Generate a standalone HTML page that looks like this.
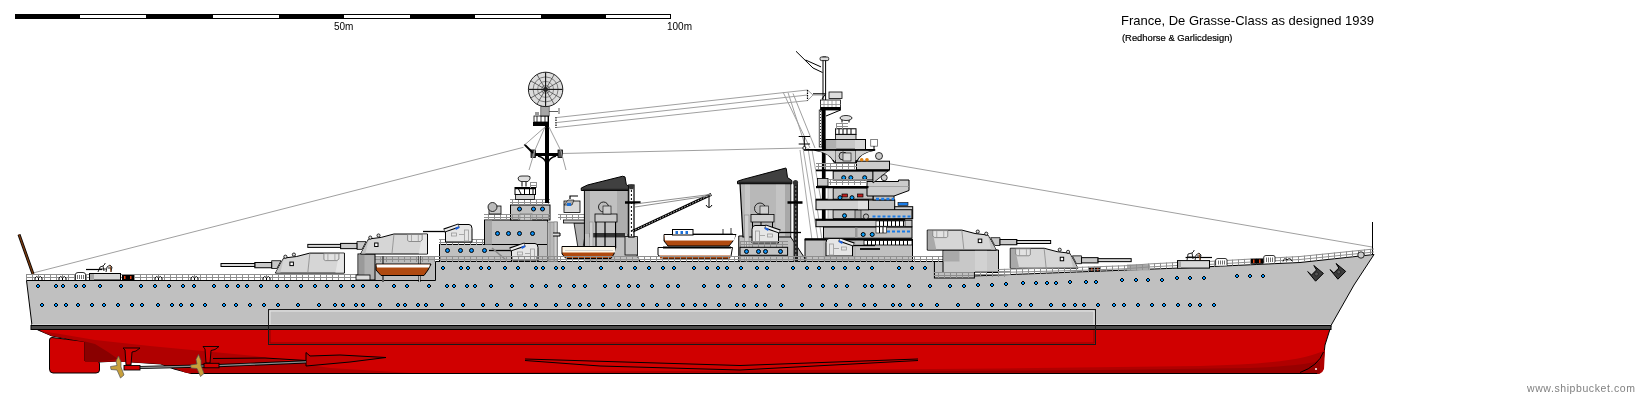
<!DOCTYPE html>
<html><head><meta charset="utf-8">
<style>
html,body{margin:0;padding:0;background:#fff;width:1643px;height:400px;overflow:hidden}
svg{display:block}
text{font-family:"Liberation Sans",sans-serif}
.txt{filter:grayscale(1)}
</style></head><body>
<svg width="1643" height="400" viewBox="0 0 1643 400">
<defs>
<pattern id="rail" x="0" y="0" width="6" height="6" patternUnits="userSpaceOnUse">
<rect x="0" y="0" width="6" height="1" fill="#9a9a9a"/><rect x="0" y="3" width="6" height="1" fill="#9a9a9a"/><rect x="0" y="0" width="1" height="6" fill="#9a9a9a"/>
</pattern>
<g id="turret">
<path d="M0,0 V-20 H34.6 L47.75,-16.6 L60.75,-15 L69,0 Z" fill="#d6d6d6" stroke="#000" stroke-width="1"/>
<path d="M0.5,-0.5 V-19.5 H5 L9,-0.5 Z" fill="currentColor"/>
<path d="M60.5,-15 L68.5,-0.5 H64 Z" fill="#c2c2c2"/>
<path d="M5.5,-19.5 H20.5 V-13.5 L19,-12.5 H7.5 L5.5,-14 Z" fill="#e2e2e2" stroke="#777" stroke-width="0.8"/><path d="M9.5,-19 V-13 M16.5,-19 V-13" stroke="#999" stroke-width="0.8"/>
<path d="M34.6,-19.5 L36.6,-0.5" stroke="#888" stroke-width="0.8" fill="none"/>
<circle cx="50.5" cy="-18.5" r="1.6" fill="#ddd" stroke="#000" stroke-width="0.8"/>
<circle cx="59" cy="-16.4" r="1.6" fill="#ddd" stroke="#000" stroke-width="0.8"/>
<rect x="51" y="-11" width="3.5" height="3.5" fill="#fff" stroke="#000" stroke-width="1"/>
<path d="M63.4,-12.4 H72.75 V-4.6 H67.5 Z" fill="#c8c8c8" stroke="#000" stroke-width="0.8"/>
<rect x="72.75" y="-10.6" width="16.85" height="5.25" fill="#c8c8c8" stroke="#000" stroke-width="1"/>
<rect x="89.6" y="-9.6" width="33.8" height="3" fill="#d8d8d8" stroke="#000" stroke-width="1"/>
</g>
<g id="aa">
<path d="M-22,-10.5 H2" stroke="#000" stroke-width="1.3"/>
<path d="M0.5,0 V-12.5 L14,-17.5 H24 Q27,-17.5 27,-13.5 V0 Z" fill="#e6e6e6" stroke="#000" stroke-width="1"/>
<path d="M-1,-11.5 L14,-16.5" stroke="#000" stroke-width="4"/>
<path d="M-0.5,-11.5 L13.5,-16.5" stroke="#eee" stroke-width="2"/>
<path d="M10.5,-13 L14,-14.8" stroke="#1a5fe0" stroke-width="2"/>
<rect x="19.5" y="-12" width="4" height="11" fill="none" stroke="#999" stroke-width="0.8"/>
<rect x="6.5" y="-9" width="5" height="3" fill="none" stroke="#999" stroke-width="0.8"/>
<path d="M14,-7.5 H19" stroke="#aaa" stroke-width="1"/>
</g>
</defs>
<rect width="1643" height="400" fill="#fff"/>
<!-- scale bar -->
<g shape-rendering="crispEdges">
<rect x="15" y="14" width="656" height="5" fill="#000"/>
<g fill="#fff">
<rect x="80" y="15" width="66" height="3"/>
<rect x="213" y="15" width="66" height="3"/>
<rect x="344" y="15" width="66" height="3"/>
<rect x="475" y="15" width="66" height="3"/>
<rect x="606" y="15" width="64" height="3"/>
</g>
</g>

<g class="txt">
<text x="334" y="30" font-size="10" fill="#000">50m</text>
<text x="667" y="30" font-size="10" fill="#000">100m</text>
<text x="1121" y="25" font-size="13" fill="#000">France, De Grasse-Class as designed 1939</text>
<text x="1122" y="41" font-size="9.4" fill="#000" stroke="#000" stroke-width="0.2">(Redhorse &amp; Garlicdesign)</text>
<text x="1527" y="392" font-size="10.5" letter-spacing="0.58" fill="#808080">www.shipbucket.com</text>
</g>
<!-- rigging wires -->
<g stroke="#a0a0a0" stroke-width="1" fill="none">
<path d="M33,273 L523.5,147.3"/>
<path d="M876,161.5 L1372,247"/>
<path d="M557,117.5 L807.5,90"/>
<path d="M557,122.5 L807.5,95"/>
<path d="M557,127.5 L807.5,100.6"/>
<path d="M562,153.5 L803,148"/>
<path d="M807.5,90 L813,95 L807.5,100.6 M813,95 H822 M783,92 L810,148 M793,93.5 L815,148 M788,92.5 L806,148"/>
</g>
<!-- stern flagstaff -->
<path d="M19,234.5 L33,274" stroke="#000" stroke-width="3"/>
<path d="M19,234.5 L33,274" stroke="#7a3a10" stroke-width="1.4"/>
<!-- jackstaff -->
<path d="M1372.5,222 V255" stroke="#000" stroke-width="1"/>

<!-- red hull -->
<path d="M32,326 L38,330 L52,336 L85,342 L85,362 L99,362 L117,361 L161,364 L174,369 L191,373.5 L1317,373.5 Q1322,373 1322.5,367 L1325,345 L1331,326 Z" fill="#D00000" stroke="#000" stroke-width="1"/>
<!-- rudder -->
<path d="M52,337.5 L85,341.5 V361 H97 Q99.5,361 99.5,364 V370 Q99.5,373 96,373 H53 Q49.5,373 49.5,369 V340 Q49.5,337.5 52,337.5 Z" fill="#D00000" stroke="#000" stroke-width="1"/>
<!-- red hull shading -->
<path d="M40,331 L52,336 L85,342 V362 H99 L117,361.5 L160,364 L172,367 L185,372.5 L191,373.5 H420 L330,368 L255,356 L150,346 L95,340 L60,334 Z" fill="#b00000"/>
<path d="M85,341.5 L95,344 L108,352 L118,359 L99,362 H85 Z" fill="#8a0000"/>
<path d="M400,373.5 H1320 Q1323,372 1324,369 L1325,350 Q1300,364 1200,366 L1000,368.5 L800,370 L600,371.5 Z" fill="#b00000"/>
<path d="M700,373 L900,371.5 L1100,370 L1250,368 Q1300,366 1320,361 L1320,373.5 H700 Z" fill="#980000"/>
<path d="M191,373.5 H1317" stroke="#000" stroke-width="1"/>
<path d="M1323.5,352 Q1318,366 1300,372.5" stroke="#000" stroke-width="1" fill="none"/>
<circle cx="1316" cy="369" r="1" fill="#fff"/>
<!-- bilge keel -->
<path d="M525,359 L740,365.5 L918,359 M525,360.5 L600,366 L740,370 L918,360.5" stroke="#000" stroke-width="1" fill="none"/>
<!-- belt bottom darker line -->
<!-- shafts & props -->
<g>
<path d="M213,358.5 L265,358 L306,360.5" stroke="#000" stroke-width="1" fill="none"/>
<path d="M306,352.5 L310,356 L340,355 L386,357.5 L350,362 L306,366 Z" fill="#c00000" stroke="#000" stroke-width="1"/>
<path d="M140,367.5 L218,365.6 L306,361.9" stroke="#000" stroke-width="3.2" fill="none"/>
<path d="M140,367.5 L218,365.6 L306,361.9" stroke="#8c8c8c" stroke-width="1.4" fill="none"/>
<path d="M123,348 H140 L136,351 L132,352 L131,365 H126 L125,350 Z" fill="#d00000" stroke="#000" stroke-width="0.9"/>
<path d="M203,346.5 H219 L215,349.5 L211,350.5 L210,363 H206 L205,349 Z" fill="#d00000" stroke="#000" stroke-width="0.9"/>
<rect x="124" y="365.5" width="16" height="4.5" fill="#d00000" stroke="#000" stroke-width="0.9"/>
<rect x="204" y="363.3" width="15" height="4.5" fill="#d00000" stroke="#000" stroke-width="0.9"/>
<g fill="#c8a03c" stroke="#555" stroke-width="0.7">
<path d="M118.5,356 L121,362 L121,367 L124,375 L120.5,378 L117,370 L111,369.5 L110.5,366.5 L117,365.5 L116,361 Z"/>
<path d="M198.5,354.5 L201,360.5 L201,365.5 L204,373.5 L200.5,376.5 L197,368.5 L191,368 L190.5,365 L197,364 L196,359.5 Z"/>
</g>
</g>
<!-- grey hull -->
<path d="M26.5,280.5 L435.5,280.5 L435.5,261.5 L934.5,261.5 L934.5,277.5 L1180,268 L1300,262.5 L1374,254.5 L1354,285 L1331,325.5 L32,325.5 Z" fill="#C0C0C0" stroke="#000" stroke-width="1"/>
<path d="M32,324.5 H1331" stroke="#d4d4d4" stroke-width="1"/>
<!-- waterline band -->
<rect x="31" y="325.5" width="1300" height="4" fill="#4B4B4B" stroke="#000" stroke-width="1"/>
<!-- belt -->
<rect x="268.5" y="309.5" width="827" height="35" fill="none" stroke="#1a1a1a" stroke-width="1"/>
<path d="M270,325 V311 H1094 V325" stroke="#e6e6e6" stroke-width="1" fill="none"/>
<path d="M270,330 V343 H1094 V330" stroke="#900000" stroke-width="1" fill="none"/>
<g shape-rendering="crispEdges"><path fill="#000" d="M36,285h4v2h-4zM37,284h2v4h-2zM54,285h4v2h-4zM55,284h2v4h-2zM61,285h4v2h-4zM62,284h2v4h-2zM74,285h4v2h-4zM75,284h2v4h-2zM82,285h4v2h-4zM83,284h2v4h-2zM98,285h4v2h-4zM99,284h2v4h-2zM119,285h4v2h-4zM120,284h2v4h-2zM139,285h4v2h-4zM140,284h2v4h-2zM153,285h4v2h-4zM154,284h2v4h-2zM167,285h4v2h-4zM168,284h2v4h-2zM181,285h4v2h-4zM182,284h2v4h-2zM192,285h4v2h-4zM193,284h2v4h-2zM212,285h4v2h-4zM213,284h2v4h-2zM225,285h4v2h-4zM226,284h2v4h-2zM236,285h4v2h-4zM237,284h2v4h-2zM245,285h4v2h-4zM246,284h2v4h-2zM259,285h4v2h-4zM260,284h2v4h-2zM275,285h4v2h-4zM276,284h2v4h-2zM285,285h4v2h-4zM286,284h2v4h-2zM299,285h4v2h-4zM300,284h2v4h-2zM313,285h4v2h-4zM314,284h2v4h-2zM325,285h4v2h-4zM326,284h2v4h-2zM339,285h4v2h-4zM340,284h2v4h-2zM351,285h4v2h-4zM352,284h2v4h-2zM361,285h4v2h-4zM362,284h2v4h-2zM375,285h4v2h-4zM376,284h2v4h-2zM392,285h4v2h-4zM393,284h2v4h-2zM405,285h4v2h-4zM406,284h2v4h-2zM427,285h4v2h-4zM428,284h2v4h-2zM445,285h4v2h-4zM446,284h2v4h-2zM452,285h4v2h-4zM453,284h2v4h-2zM465,285h4v2h-4zM466,284h2v4h-2zM473,285h4v2h-4zM474,284h2v4h-2zM489,285h4v2h-4zM490,284h2v4h-2zM510,285h4v2h-4zM511,284h2v4h-2zM530,285h4v2h-4zM531,284h2v4h-2zM544,285h4v2h-4zM545,284h2v4h-2zM558,285h4v2h-4zM559,284h2v4h-2zM572,285h4v2h-4zM573,284h2v4h-2zM583,285h4v2h-4zM584,284h2v4h-2zM603,285h4v2h-4zM604,284h2v4h-2zM616,285h4v2h-4zM617,284h2v4h-2zM627,285h4v2h-4zM628,284h2v4h-2zM636,285h4v2h-4zM637,284h2v4h-2zM650,285h4v2h-4zM651,284h2v4h-2zM666,285h4v2h-4zM667,284h2v4h-2zM676,285h4v2h-4zM677,284h2v4h-2zM702,285h4v2h-4zM703,284h2v4h-2zM716,285h4v2h-4zM717,284h2v4h-2zM728,285h4v2h-4zM729,284h2v4h-2zM742,285h4v2h-4zM743,284h2v4h-2zM754,285h4v2h-4zM755,284h2v4h-2zM767,285h4v2h-4zM768,284h2v4h-2zM781,285h4v2h-4zM782,284h2v4h-2zM808,285h4v2h-4zM809,284h2v4h-2zM821,285h4v2h-4zM822,284h2v4h-2zM834,285h4v2h-4zM835,284h2v4h-2zM845,285h4v2h-4zM846,284h2v4h-2zM863,285h4v2h-4zM864,284h2v4h-2zM870,285h4v2h-4zM871,284h2v4h-2zM883,285h4v2h-4zM884,284h2v4h-2zM891,285h4v2h-4zM892,284h2v4h-2zM907,285h4v2h-4zM908,284h2v4h-2zM928,285h4v2h-4zM929,284h2v4h-2zM948,285h4v2h-4zM949,284h2v4h-2zM962,285h4v2h-4zM963,284h2v4h-2zM976,284h4v2h-4zM977,283h2v4h-2zM990,284h4v2h-4zM991,283h2v4h-2zM1004,283h4v2h-4zM1005,282h2v4h-2zM1021,282h4v2h-4zM1022,281h2v4h-2zM1034,282h4v2h-4zM1035,281h2v4h-2zM1045,282h4v2h-4zM1046,281h2v4h-2zM1054,282h4v2h-4zM1055,281h2v4h-2zM1068,281h4v2h-4zM1069,280h2v4h-2zM1084,281h4v2h-4zM1085,280h2v4h-2zM1094,281h4v2h-4zM1095,280h2v4h-2zM1120,279h4v2h-4zM1121,278h2v4h-2zM1134,279h4v2h-4zM1135,278h2v4h-2zM1146,279h4v2h-4zM1147,278h2v4h-2zM1160,279h4v2h-4zM1161,278h2v4h-2zM1175,277h4v2h-4zM1176,276h2v4h-2zM1188,277h4v2h-4zM1189,276h2v4h-2zM1202,277h4v2h-4zM1203,276h2v4h-2zM1235,275h4v2h-4zM1236,274h2v4h-2zM1248,275h4v2h-4zM1249,274h2v4h-2zM1261,275h4v2h-4zM1262,274h2v4h-2zM40,304h4v2h-4zM41,303h2v4h-2zM54,304h4v2h-4zM55,303h2v4h-2zM64,304h4v2h-4zM65,303h2v4h-2zM76,304h4v2h-4zM77,303h2v4h-2zM90,304h4v2h-4zM91,303h2v4h-2zM102,304h4v2h-4zM103,303h2v4h-2zM116,304h4v2h-4zM117,303h2v4h-2zM130,304h4v2h-4zM131,303h2v4h-2zM140,304h4v2h-4zM141,303h2v4h-2zM156,304h4v2h-4zM157,303h2v4h-2zM170,304h4v2h-4zM171,303h2v4h-2zM179,304h4v2h-4zM180,303h2v4h-2zM190,304h4v2h-4zM191,303h2v4h-2zM203,304h4v2h-4zM204,303h2v4h-2zM222,304h4v2h-4zM223,303h2v4h-2zM234,304h4v2h-4zM235,303h2v4h-2zM248,304h4v2h-4zM249,303h2v4h-2zM262,304h4v2h-4zM263,303h2v4h-2zM276,304h4v2h-4zM277,303h2v4h-2zM296,304h4v2h-4zM297,303h2v4h-2zM317,304h4v2h-4zM318,303h2v4h-2zM333,304h4v2h-4zM334,303h2v4h-2zM341,304h4v2h-4zM342,303h2v4h-2zM354,304h4v2h-4zM355,303h2v4h-2zM361,304h4v2h-4zM362,303h2v4h-2zM378,304h4v2h-4zM379,303h2v4h-2zM396,304h4v2h-4zM397,303h2v4h-2zM403,304h4v2h-4zM404,303h2v4h-2zM416,304h4v2h-4zM417,303h2v4h-2zM424,304h4v2h-4zM425,303h2v4h-2zM440,304h4v2h-4zM441,303h2v4h-2zM461,304h4v2h-4zM462,303h2v4h-2zM481,304h4v2h-4zM482,303h2v4h-2zM495,304h4v2h-4zM496,303h2v4h-2zM509,304h4v2h-4zM510,303h2v4h-2zM523,304h4v2h-4zM524,303h2v4h-2zM534,304h4v2h-4zM535,303h2v4h-2zM554,304h4v2h-4zM555,303h2v4h-2zM567,304h4v2h-4zM568,303h2v4h-2zM578,304h4v2h-4zM579,303h2v4h-2zM587,304h4v2h-4zM588,303h2v4h-2zM601,304h4v2h-4zM602,303h2v4h-2zM617,304h4v2h-4zM618,303h2v4h-2zM627,304h4v2h-4zM628,303h2v4h-2zM641,304h4v2h-4zM642,303h2v4h-2zM655,304h4v2h-4zM656,303h2v4h-2zM667,304h4v2h-4zM668,303h2v4h-2zM681,304h4v2h-4zM682,303h2v4h-2zM693,304h4v2h-4zM694,303h2v4h-2zM703,304h4v2h-4zM704,303h2v4h-2zM717,304h4v2h-4zM718,303h2v4h-2zM735,304h4v2h-4zM736,303h2v4h-2zM742,304h4v2h-4zM743,303h2v4h-2zM755,304h4v2h-4zM756,303h2v4h-2zM763,304h4v2h-4zM764,303h2v4h-2zM779,304h4v2h-4zM780,303h2v4h-2zM800,304h4v2h-4zM801,303h2v4h-2zM820,304h4v2h-4zM821,303h2v4h-2zM834,304h4v2h-4zM835,303h2v4h-2zM848,304h4v2h-4zM849,303h2v4h-2zM862,304h4v2h-4zM863,303h2v4h-2zM873,304h4v2h-4zM874,303h2v4h-2zM891,304h4v2h-4zM892,303h2v4h-2zM898,304h4v2h-4zM899,303h2v4h-2zM911,304h4v2h-4zM912,303h2v4h-2zM919,304h4v2h-4zM920,303h2v4h-2zM935,304h4v2h-4zM936,303h2v4h-2zM956,304h4v2h-4zM957,303h2v4h-2zM976,304h4v2h-4zM977,303h2v4h-2zM990,304h4v2h-4zM991,303h2v4h-2zM1004,304h4v2h-4zM1005,303h2v4h-2zM1018,304h4v2h-4zM1019,303h2v4h-2zM1029,304h4v2h-4zM1030,303h2v4h-2zM1049,304h4v2h-4zM1050,303h2v4h-2zM1062,304h4v2h-4zM1063,303h2v4h-2zM1073,304h4v2h-4zM1074,303h2v4h-2zM1082,304h4v2h-4zM1083,303h2v4h-2zM1096,304h4v2h-4zM1097,303h2v4h-2zM1112,304h4v2h-4zM1113,303h2v4h-2zM1122,304h4v2h-4zM1123,303h2v4h-2zM1136,304h4v2h-4zM1137,303h2v4h-2zM1150,304h4v2h-4zM1151,303h2v4h-2zM1162,304h4v2h-4zM1163,303h2v4h-2zM1176,304h4v2h-4zM1177,303h2v4h-2zM1188,304h4v2h-4zM1189,303h2v4h-2zM1198,304h4v2h-4zM1199,303h2v4h-2zM1212,304h4v2h-4zM1213,303h2v4h-2zM441,267h4v2h-4zM442,266h2v4h-2zM459,267h4v2h-4zM460,266h2v4h-2zM466,267h4v2h-4zM467,266h2v4h-2zM479,267h4v2h-4zM480,266h2v4h-2zM487,267h4v2h-4zM488,266h2v4h-2zM503,267h4v2h-4zM504,266h2v4h-2zM516,267h4v2h-4zM517,266h2v4h-2zM534,267h4v2h-4zM535,266h2v4h-2zM541,267h4v2h-4zM542,266h2v4h-2zM554,267h4v2h-4zM555,266h2v4h-2zM561,267h4v2h-4zM562,266h2v4h-2zM578,267h4v2h-4zM579,266h2v4h-2zM599,267h4v2h-4zM600,266h2v4h-2zM619,267h4v2h-4zM620,266h2v4h-2zM633,267h4v2h-4zM634,266h2v4h-2zM647,267h4v2h-4zM648,266h2v4h-2zM661,267h4v2h-4zM662,266h2v4h-2zM672,267h4v2h-4zM673,266h2v4h-2zM692,267h4v2h-4zM693,266h2v4h-2zM705,267h4v2h-4zM706,266h2v4h-2zM716,267h4v2h-4zM717,266h2v4h-2zM725,267h4v2h-4zM726,266h2v4h-2zM739,267h4v2h-4zM740,266h2v4h-2zM755,267h4v2h-4zM756,266h2v4h-2zM765,267h4v2h-4zM766,266h2v4h-2zM791,267h4v2h-4zM792,266h2v4h-2zM805,267h4v2h-4zM806,266h2v4h-2zM817,267h4v2h-4zM818,266h2v4h-2zM831,267h4v2h-4zM832,266h2v4h-2zM843,267h4v2h-4zM844,266h2v4h-2zM856,267h4v2h-4zM857,266h2v4h-2zM870,267h4v2h-4zM871,266h2v4h-2zM897,267h4v2h-4zM898,266h2v4h-2zM910,267h4v2h-4zM911,266h2v4h-2zM923,267h4v2h-4zM924,266h2v4h-2z"/><path fill="#0094FF" d="M37,285h2v2h-2zM55,285h2v2h-2zM62,285h2v2h-2zM75,285h2v2h-2zM83,285h2v2h-2zM99,285h2v2h-2zM120,285h2v2h-2zM140,285h2v2h-2zM154,285h2v2h-2zM168,285h2v2h-2zM182,285h2v2h-2zM193,285h2v2h-2zM213,285h2v2h-2zM226,285h2v2h-2zM237,285h2v2h-2zM246,285h2v2h-2zM260,285h2v2h-2zM276,285h2v2h-2zM286,285h2v2h-2zM300,285h2v2h-2zM314,285h2v2h-2zM326,285h2v2h-2zM340,285h2v2h-2zM352,285h2v2h-2zM362,285h2v2h-2zM376,285h2v2h-2zM393,285h2v2h-2zM406,285h2v2h-2zM428,285h2v2h-2zM446,285h2v2h-2zM453,285h2v2h-2zM466,285h2v2h-2zM474,285h2v2h-2zM490,285h2v2h-2zM511,285h2v2h-2zM531,285h2v2h-2zM545,285h2v2h-2zM559,285h2v2h-2zM573,285h2v2h-2zM584,285h2v2h-2zM604,285h2v2h-2zM617,285h2v2h-2zM628,285h2v2h-2zM637,285h2v2h-2zM651,285h2v2h-2zM667,285h2v2h-2zM677,285h2v2h-2zM703,285h2v2h-2zM717,285h2v2h-2zM729,285h2v2h-2zM743,285h2v2h-2zM755,285h2v2h-2zM768,285h2v2h-2zM782,285h2v2h-2zM809,285h2v2h-2zM822,285h2v2h-2zM835,285h2v2h-2zM846,285h2v2h-2zM864,285h2v2h-2zM871,285h2v2h-2zM884,285h2v2h-2zM892,285h2v2h-2zM908,285h2v2h-2zM929,285h2v2h-2zM949,285h2v2h-2zM963,285h2v2h-2zM977,284h2v2h-2zM991,284h2v2h-2zM1005,283h2v2h-2zM1022,282h2v2h-2zM1035,282h2v2h-2zM1046,282h2v2h-2zM1055,282h2v2h-2zM1069,281h2v2h-2zM1085,281h2v2h-2zM1095,281h2v2h-2zM1121,279h2v2h-2zM1135,279h2v2h-2zM1147,279h2v2h-2zM1161,279h2v2h-2zM1176,277h2v2h-2zM1189,277h2v2h-2zM1203,277h2v2h-2zM1236,275h2v2h-2zM1249,275h2v2h-2zM1262,275h2v2h-2zM41,304h2v2h-2zM55,304h2v2h-2zM65,304h2v2h-2zM77,304h2v2h-2zM91,304h2v2h-2zM103,304h2v2h-2zM117,304h2v2h-2zM131,304h2v2h-2zM141,304h2v2h-2zM157,304h2v2h-2zM171,304h2v2h-2zM180,304h2v2h-2zM191,304h2v2h-2zM204,304h2v2h-2zM223,304h2v2h-2zM235,304h2v2h-2zM249,304h2v2h-2zM263,304h2v2h-2zM277,304h2v2h-2zM297,304h2v2h-2zM318,304h2v2h-2zM334,304h2v2h-2zM342,304h2v2h-2zM355,304h2v2h-2zM362,304h2v2h-2zM379,304h2v2h-2zM397,304h2v2h-2zM404,304h2v2h-2zM417,304h2v2h-2zM425,304h2v2h-2zM441,304h2v2h-2zM462,304h2v2h-2zM482,304h2v2h-2zM496,304h2v2h-2zM510,304h2v2h-2zM524,304h2v2h-2zM535,304h2v2h-2zM555,304h2v2h-2zM568,304h2v2h-2zM579,304h2v2h-2zM588,304h2v2h-2zM602,304h2v2h-2zM618,304h2v2h-2zM628,304h2v2h-2zM642,304h2v2h-2zM656,304h2v2h-2zM668,304h2v2h-2zM682,304h2v2h-2zM694,304h2v2h-2zM704,304h2v2h-2zM718,304h2v2h-2zM736,304h2v2h-2zM743,304h2v2h-2zM756,304h2v2h-2zM764,304h2v2h-2zM780,304h2v2h-2zM801,304h2v2h-2zM821,304h2v2h-2zM835,304h2v2h-2zM849,304h2v2h-2zM863,304h2v2h-2zM874,304h2v2h-2zM892,304h2v2h-2zM899,304h2v2h-2zM912,304h2v2h-2zM920,304h2v2h-2zM936,304h2v2h-2zM957,304h2v2h-2zM977,304h2v2h-2zM991,304h2v2h-2zM1005,304h2v2h-2zM1019,304h2v2h-2zM1030,304h2v2h-2zM1050,304h2v2h-2zM1063,304h2v2h-2zM1074,304h2v2h-2zM1083,304h2v2h-2zM1097,304h2v2h-2zM1113,304h2v2h-2zM1123,304h2v2h-2zM1137,304h2v2h-2zM1151,304h2v2h-2zM1163,304h2v2h-2zM1177,304h2v2h-2zM1189,304h2v2h-2zM1199,304h2v2h-2zM1213,304h2v2h-2zM442,267h2v2h-2zM460,267h2v2h-2zM467,267h2v2h-2zM480,267h2v2h-2zM488,267h2v2h-2zM504,267h2v2h-2zM517,267h2v2h-2zM535,267h2v2h-2zM542,267h2v2h-2zM555,267h2v2h-2zM562,267h2v2h-2zM579,267h2v2h-2zM600,267h2v2h-2zM620,267h2v2h-2zM634,267h2v2h-2zM648,267h2v2h-2zM662,267h2v2h-2zM673,267h2v2h-2zM693,267h2v2h-2zM706,267h2v2h-2zM717,267h2v2h-2zM726,267h2v2h-2zM740,267h2v2h-2zM756,267h2v2h-2zM766,267h2v2h-2zM792,267h2v2h-2zM806,267h2v2h-2zM818,267h2v2h-2zM832,267h2v2h-2zM844,267h2v2h-2zM857,267h2v2h-2zM871,267h2v2h-2zM898,267h2v2h-2zM911,267h2v2h-2zM924,267h2v2h-2z"/></g>

<!-- hull railings -->
<g shape-rendering="crispEdges"><path d="M26.0,274.5H435.0M26.0,277.5H435.0" stroke="#8f8f8f" stroke-width="1" fill="none"/><path d="M26.0,277.0H435.0" stroke="#8f8f8f" stroke-width="6.0" stroke-dasharray="1,5" stroke-dashoffset="0.0" fill="none"/></g>
<g shape-rendering="crispEdges"><path d="M934.0,272.5H944.0M934.0,275.5H944.0" stroke="#8f8f8f" stroke-width="1" fill="none"/><path d="M934.0,275.0H944.0" stroke="#8f8f8f" stroke-width="6.0" stroke-dasharray="1,5" stroke-dashoffset="2.0" fill="none"/></g>
<!-- quarterdeck AA gun -->
<rect x="89.5" y="273.5" width="31" height="6.5" fill="#d6d6d6" stroke="#000" stroke-width="1"/>
<rect x="90" y="274" width="4" height="6" fill="#a8a8a8"/>
<path d="M86,269.5 H102" stroke="#000" stroke-width="1.2"/>
<path d="M98,272 L100,267 L103,266 L104,271 M103,266 L105,264 V263 M106,272 L107,267 L110,265 L112,267 L111,272 M108,268 H112 M99,269 H106" stroke="#111" stroke-width="0.9" fill="none"/>
<path d="M110,265.5 L111,272" stroke="#8a4a20" stroke-width="1"/>
<path d="M75.5,280 V274.5 Q75.5,272.5 78,272.5 H83 Q85.5,272.5 85.5,274.5 V280" fill="#fff" stroke="#000" stroke-width="0.8"/>
<path d="M77.5,275 V279 M79.5,275 V279 M81.5,275 V279 M83.5,275 V279" stroke="#333" stroke-width="0.7"/>
<path d="M35,280 V278 Q36.75,275 38.5,278 V280 M38.5,278 Q40.25,275 42,278 V280" stroke="#000" stroke-width="1" fill="#fff"/><path d="M59,280 V278 Q60.75,275 62.5,278 V280 M62.5,278 Q64.25,275 66,278 V280" stroke="#000" stroke-width="1" fill="#fff"/><path d="M155,280 V278 Q156.75,275 158.5,278 V280 M158.5,278 Q160.25,275 162,278 V280" stroke="#000" stroke-width="1" fill="#fff"/><path d="M191,280 V278 Q192.75,275 194.5,278 V280 M194.5,278 Q196.25,275 198,278 V280" stroke="#000" stroke-width="1" fill="#fff"/><path d="M263,280 V278 Q264.75,275 266.5,278 V280 M266.5,278 Q268.25,275 270,278 V280" stroke="#000" stroke-width="1" fill="#fff"/>
<rect x="122" y="275" width="12" height="5" fill="#000"/><rect x="124" y="276" width="1.5" height="3" fill="#e04010"/><rect x="130" y="276" width="1.5" height="3" fill="#e04010"/>

<!-- turret X (aft lower) -->
<use href="#turret" style="color:#e6e6e6" transform="translate(344.4,273.1) scale(-1,1)"/>
<!-- turret Y -->
<rect x="375" y="256" width="60" height="24" fill="#bcbcbc"/>
<g shape-rendering="crispEdges"><path d="M375.0,256.0H435.0M375.0,259.0H435.0" stroke="#8f8f8f" stroke-width="1" fill="none"/><path d="M375.0,258.5H435.0" stroke="#8f8f8f" stroke-width="6.0" stroke-dasharray="1,5" stroke-dashoffset="1.0" fill="none"/></g>
<rect x="358" y="254" width="17" height="26" fill="#b0b0b0" stroke="#000" stroke-width="1"/>
<rect x="358.5" y="254.5" width="6" height="25" fill="#9a9a9a"/>
<rect x="356" y="275" width="14" height="5" fill="#ddd" stroke="#000" stroke-width="0.8"/>
<use href="#turret" style="color:#e6e6e6" transform="translate(427.5,254) scale(-0.97,1)"/>
<!-- boat aft -->
<path d="M383,256 V282 M419.5,256 V282" stroke="#000" stroke-width="2"/>
<path d="M383,256 V282 M419.5,256 V282" stroke="#eee" stroke-width="0.8"/>
<path d="M376,264 H431 L428,270 L424,275.5 H381 L376,270 Z" fill="#b04a10" stroke="#000" stroke-width="1"/>
<path d="M376.5,264.5 H430 L429,267.5 H377 Z" fill="#fff"/>

<!-- aft deckhouse lower -->
<rect x="439.5" y="244.5" width="108" height="17" fill="#c0c0c0" stroke="#000" stroke-width="1"/>
<g shape-rendering="crispEdges"><path d="M439.0,239.0H549.0M439.0,242.0H549.0" stroke="#8f8f8f" stroke-width="1" fill="none"/><path d="M439.0,241.5H549.0" stroke="#8f8f8f" stroke-width="6.0" stroke-dasharray="1,5" stroke-dashoffset="5.0" fill="none"/></g>
<!-- aft deckhouse upper -->
<rect x="484.5" y="220" width="63" height="24.5" fill="#c0c0c0" stroke="#000" stroke-width="1"/>
<rect x="485" y="220.5" width="7" height="24" fill="#a8a8a8"/>
<rect x="510.5" y="205" width="39.5" height="15" fill="#c0c0c0" stroke="#000" stroke-width="1"/>
<rect x="520" y="213.5" width="12" height="6.5" fill="#d0d0d0" stroke="#888" stroke-width="0.6"/>
<g shape-rendering="crispEdges"><path d="M484.0,214.5H550.0M484.0,217.5H550.0" stroke="#8f8f8f" stroke-width="1" fill="none"/><path d="M484.0,217.0H550.0" stroke="#8f8f8f" stroke-width="6.0" stroke-dasharray="1,5" stroke-dashoffset="2.0" fill="none"/></g>
<g shape-rendering="crispEdges"><path d="M510.0,199.9H550.0M510.0,202.9H550.0" stroke="#8f8f8f" stroke-width="1" fill="none"/><path d="M510.0,202.4H550.0" stroke="#8f8f8f" stroke-width="6.0" stroke-dasharray="1,5" stroke-dashoffset="4.0" fill="none"/></g>
<rect x="515.5" y="194.4" width="19" height="5" fill="#d0d0d0" stroke="#000" stroke-width="0.8"/>
<rect x="515" y="187.5" width="20.5" height="7" fill="#fff" stroke="#000" stroke-width="1"/>
<path d="M515,188.5 H535.5" stroke="#000" stroke-width="1.5"/>
<path d="M518.5,189 L521,194 M524.5,189 V194 M529.5,189 V194 M533,189 V194" stroke="#000" stroke-width="1"/>
<g shape-rendering="crispEdges"><path d="M530.0,182.0H537.0M530.0,185.0H537.0" stroke="#8f8f8f" stroke-width="1" fill="none"/><path d="M530.0,184.5H537.0" stroke="#8f8f8f" stroke-width="6.0" stroke-dasharray="1,5" stroke-dashoffset="0.0" fill="none"/></g>
<path d="M522,186.5 V182 M526,186.5 V182" stroke="#000" stroke-width="1"/>
<path d="M518,178 Q519,175.5 522,176 H528 Q531,176 530,179 L528,181.5 H521 Q518,181 518,178 Z" fill="#ddd" stroke="#000" stroke-width="0.8"/>
<!-- searchlight aft -->
<rect x="489" y="206" width="12" height="8" fill="#ccc" stroke="#000" stroke-width="0.8"/>
<circle cx="492.5" cy="207" r="4.5" fill="#bbb" stroke="#000" stroke-width="0.8"/>
<!-- mainmast -->
<rect x="545" y="107" width="4" height="96" fill="#000"/>
<path d="M532.5,154.5 H561" stroke="#000" stroke-width="3"/>
<rect x="531" y="150" width="4.5" height="7.5" fill="#555" stroke="#000" stroke-width="0.8"/>
<rect x="558" y="150" width="4.5" height="7.5" fill="#555" stroke="#000" stroke-width="0.8"/>
<path d="M538,156 Q545,158 546,163 M556,156 Q549,158 548,163" stroke="#000" stroke-width="1.5" fill="none"/>
<path d="M524.4,144.4 L533,153" stroke="#000" stroke-width="2"/>
<path d="M545,127 L524.5,145 M545,127 L535,150 L529,170 M549,127 L561,151 L566,170" stroke="#a0a0a0" stroke-width="1" fill="none"/>
<rect x="533" y="122" width="16" height="4" fill="#000"/>
<rect x="534" y="116" width="14" height="6" fill="#fff" stroke="#000" stroke-width="0.8"/>
<path d="M537,116 V122 M541,116 V122 M545,116 V122" stroke="#000" stroke-width="0.8"/>
<rect x="541" y="106" width="8" height="10" fill="#fff" stroke="#000" stroke-width="0.8"/>
<path d="M543,106 V116 M545,106 V116 M547,106 V116" stroke="#000" stroke-width="0.7"/>
<path d="M536,115 V112 M538,115 V112" stroke="#000" stroke-width="0.8"/>
<path d="M549,111.5 H558 M559,108 V114" stroke="#333" stroke-width="0.8"/>
<path d="M556,117 V128" stroke="#000" stroke-width="1.2" stroke-dasharray="1.5,1"/>
<!-- radar dish -->
<g transform="translate(545.6,89.4)">
<circle r="17.2" fill="#dcdcdc" stroke="#222" stroke-width="1"/>
<circle r="12.5" fill="none" stroke="#555" stroke-width="0.7"/>
<circle r="8" fill="none" stroke="#666" stroke-width="0.7"/>
<circle r="4" fill="none" stroke="#666" stroke-width="0.7"/>
<path d="M0,0 L17.00,0.00 M0,0 L14.72,8.50 M0,0 L8.50,14.72 M0,0 L0.00,17.00 M0,0 L-8.50,14.72 M0,0 L-14.72,8.50 M0,0 L-17.00,0.00 M0,0 L-14.72,-8.50 M0,0 L-8.50,-14.72 M0,0 L-0.00,-17.00 M0,0 L8.50,-14.72 M0,0 L14.72,-8.50 " stroke="#333" stroke-width="0.7"/>
<path d="M-17,0 H17 M0,-17 V17" stroke="#111" stroke-width="1"/>
<circle r="2.2" fill="#222"/>
</g>
<!-- AA guns aft -->
<use href="#aa" transform="translate(445,242)"/>
<use href="#aa" transform="translate(511,261)"/>
<path d="M492,248 L506,260" stroke="#888" stroke-width="1.5" fill="none"/>
<g fill="#0A8CF0" stroke="#000" stroke-width="1">
<circle cx="447.5" cy="250.5" r="2"/><circle cx="460.5" cy="250.5" r="2"/><circle cx="471.5" cy="250.5" r="2"/><circle cx="484.5" cy="250.5" r="2"/>
<circle cx="497.5" cy="233.5" r="2"/><circle cx="508.5" cy="233.5" r="2"/><circle cx="519.5" cy="233.5" r="2"/><circle cx="532.5" cy="233.5" r="2"/>
<circle cx="519.5" cy="209" r="2"/><circle cx="533.5" cy="209" r="2"/><circle cx="542.5" cy="209" r="2"/>
</g>
<!-- ladder trunk -->
<rect x="547.5" y="222" width="10" height="39.5" fill="#b8b8b8" stroke="#777" stroke-width="0.8"/>
<path d="M550,222 V261 M555,222 V261" stroke="#999" stroke-width="0.8"/>
<!-- AA director tub aft -->
<path d="M574,223 L578,248 H583 L587,223 Z" fill="#b0b0b0" stroke="#000" stroke-width="0.8"/>
<rect x="563.6" y="220" width="30" height="3" fill="#c8c8c8" stroke="#000" stroke-width="0.8"/>
<g shape-rendering="crispEdges"><path d="M558.0,214.5H594.0M558.0,217.5H594.0" stroke="#8f8f8f" stroke-width="1" fill="none"/><path d="M558.0,217.0H594.0" stroke="#8f8f8f" stroke-width="6.0" stroke-dasharray="1,5" stroke-dashoffset="4.0" fill="none"/></g>
<rect x="564" y="201" width="16" height="11.5" fill="#d8d8d8" stroke="#000" stroke-width="0.8"/>
<path d="M564,205 H572 L574,200 H568 Z" fill="#aaa" stroke="#000" stroke-width="0.6"/>
<rect x="567" y="203" width="4" height="3" fill="#1a6fd8"/>
<path d="M570,199 V196 H578" stroke="#000" stroke-width="1.2" fill="none"/>
<rect x="554" y="222" width="3" height="39" fill="#d0d0d0" stroke="#888" stroke-width="0.6"/>
<path d="M553,233 H560 V236 H553" stroke="#000" stroke-width="1" fill="#ddd"/>
<!-- aft funnel -->
<path d="M584.4,189 H628 V236 L640,261.5 H584.4 Z" fill="#c0c0c0" stroke="#000" stroke-width="1"/>
<rect x="585" y="190" width="5" height="44" fill="#a8a8a8"/>
<rect x="617" y="190" width="10.5" height="44" fill="#adadad"/>
<rect x="589" y="233" width="36" height="4.4" fill="#333"/>
<path d="M596,222 V248 M605,222 V248 M615.6,222 V248" stroke="#000" stroke-width="1.2"/>
<rect x="589.5" y="222" width="3.5" height="38" fill="#cfcfcf" stroke="#888" stroke-width="0.6"/>
<path d="M581.25,188 L587.5,185 L622.5,176.25 L625,176.9 L626.25,184.4 L630,187.5 L630,190.5 L581.25,190.5 Z" fill="#404040" stroke="#000" stroke-width="1"/>
<path d="M583,189.5 H629" stroke="#222" stroke-width="1.5"/>
<rect x="595" y="214" width="22" height="8" fill="#c8c8c8" stroke="#000" stroke-width="0.8"/>
<circle cx="603.5" cy="207" r="5" fill="#bbb" stroke="#000" stroke-width="0.8"/>
<rect x="603" y="206" width="8" height="8" fill="#ccc" stroke="#000" stroke-width="0.6"/>
<!-- boat under aft funnel -->
<path d="M562,246.5 H615.6 L614,254 L611,258.5 H566 L562,254 Z" fill="#b04a10" stroke="#000" stroke-width="1"/>
<path d="M562.5,247 H615 V252.5 H562.5 Z" fill="#fff8e8"/>
<path d="M565,250.5 H613" stroke="#ccc" stroke-width="0.8"/>
<!-- crane -->
<rect x="625" y="236.6" width="12.5" height="18.4" fill="#c4c4c4" stroke="#000" stroke-width="0.8"/>
<rect x="628.75" y="185" width="5.25" height="52" fill="#fff" stroke="#000" stroke-width="1.2"/>
<path d="M631.4,186 V236" stroke="#000" stroke-width="1" stroke-dasharray="2,2"/>
<circle cx="631.4" cy="187" r="2.5" fill="#333"/>
<path d="M625,202.5 H640.6" stroke="#000" stroke-width="2.5"/>
<path d="M632.5,231.25 L711.25,194.4" stroke="#000" stroke-width="3"/>
<path d="M632.5,231.25 L711.25,194.4" stroke="#fff" stroke-width="0.8" stroke-dasharray="1.5,1.5"/>
<path d="M635,204 L711,194.4 M635,207 L711,195.5" stroke="#909090" stroke-width="1"/>
<path d="M709,195 V207 M706,205 Q709,210 712,205" stroke="#000" stroke-width="1" fill="none"/>
<!-- motor launch & boat -->
<path d="M658,247.5 H732.5 L731,256 L729,258.5 H663 L658,255 Z" fill="#fff" stroke="#000" stroke-width="1"/>
<rect x="660" y="255.5" width="70" height="3" fill="#b04a10"/>
<path d="M663,247.5 H731" stroke="#000" stroke-width="2"/>
<path d="M664,234.5 H736 L733,241 L729,246 H668 L664,241 Z" fill="#b04a10" stroke="#000" stroke-width="1"/>
<path d="M664.5,235 H735.5 L734,240.5 H665 Z" fill="#fff"/>
<rect x="672.5" y="229.5" width="20.5" height="5.5" fill="#fff" stroke="#000" stroke-width="1"/>
<rect x="675.5" y="231" width="2.5" height="3" fill="#1a6fd8"/><rect x="680.5" y="231" width="2.5" height="3" fill="#1a6fd8"/><rect x="685.5" y="231" width="2.5" height="3" fill="#1a6fd8"/>
<path d="M693,234 H733 M723,234 V229 M731,234 V228" stroke="#000" stroke-width="0.8"/>

<!-- fore funnel base -->
<path d="M738.75,236 H790 L807,261.5 H738.75 Z" fill="#c0c0c0" stroke="#000" stroke-width="1"/>
<!-- fore funnel -->
<path d="M740,183.5 H790.6 V237 H743 Z" fill="#b8b8b8" stroke="#000" stroke-width="1.2"/>
<rect x="745" y="184" width="5" height="52" fill="#c8c8c8"/>
<rect x="776" y="184" width="14" height="52" fill="#c4c4c4"/>
<rect x="785" y="184" width="5.5" height="52" fill="#a8a8a8"/>
<path d="M737.5,181.25 L743,179.4 L785.6,168.1 L786.25,168.5 L787.5,177.5 L791.9,180.6 V183.75 H737.5 Z" fill="#404040" stroke="#000" stroke-width="1"/>
<path d="M739,182.5 H791" stroke="#222" stroke-width="1.5"/>
<rect x="793.5" y="182" width="4.5" height="79.5" fill="#222"/>
<path d="M795.75,186 V258" stroke="#888" stroke-width="1" stroke-dasharray="2,2"/>
<circle cx="795.5" cy="182.5" r="2.6" fill="#333"/>
<path d="M787.5,202.5 H802.5" stroke="#000" stroke-width="2.5"/>
<rect x="751" y="214.4" width="23" height="7.6" fill="#cfcfcf" stroke="#000" stroke-width="0.8"/>
<circle cx="760" cy="208.5" r="5.5" fill="#bbb" stroke="#000" stroke-width="0.8"/>
<rect x="760" y="206" width="8.5" height="8" fill="#d0d0d0" stroke="#000" stroke-width="0.6"/>
<path d="M752.5,222 V236 M761,222 V236 M772.5,222 V236" stroke="#000" stroke-width="1"/>
<rect x="744.5" y="215" width="4.5" height="46" fill="#d0d0d0" stroke="#888" stroke-width="0.6"/>
<use href="#aa" transform="translate(779,243) scale(-1,1)"/>
<g shape-rendering="crispEdges"><path d="M739.0,241.9H788.0M739.0,244.9H788.0" stroke="#8f8f8f" stroke-width="1" fill="none"/><path d="M739.0,244.4H788.0" stroke="#8f8f8f" stroke-width="6.0" stroke-dasharray="1,5" stroke-dashoffset="5.0" fill="none"/></g>
<rect x="740" y="247.3" width="47.6" height="8" fill="#c4c4c4" stroke="#000" stroke-width="1"/>
<g fill="#0A8CF0" stroke="#000" stroke-width="1"><circle cx="746.5" cy="251.5" r="2"/><circle cx="758.5" cy="251.5" r="2"/><circle cx="765.5" cy="251.5" r="2"/><circle cx="780.5" cy="251.5" r="2"/></g>
<!-- foremast -->
<rect x="821.9" y="100" width="3.7" height="121" fill="#000"/>
<rect x="819.2" y="110" width="2.7" height="37" fill="#fff" stroke="#000" stroke-width="0.7"/>
<path d="M820.5,111 V146" stroke="#000" stroke-width="0.8" stroke-dasharray="1,2"/>
<path d="M840.6,110 L826,116" stroke="#000" stroke-width="1"/>
<rect x="823" y="57" width="2.6" height="45" fill="#fff" stroke="#000" stroke-width="1"/>
<rect x="820" y="57" width="8.75" height="3.6" rx="1.5" fill="#ddd" stroke="#000" stroke-width="0.8"/>
<path d="M796,51.25 L813,68 L822.5,72.5 M805.6,60 L821,66.9" stroke="#000" stroke-width="1" fill="none"/>
<path d="M813,93.75 H825.6 L822,99" stroke="#000" stroke-width="1" fill="none"/>
<path d="M807.5,90 V100.6" stroke="#000" stroke-width="1.2" stroke-dasharray="1.5,1"/>
<rect x="820.6" y="100" width="20" height="10" fill="#fff" stroke="#000" stroke-width="0.8"/>
<path d="M824,100 V110 M828,100 V110 M832,100 V110 M836,100 V110 M820.6,104.5 H840.6" stroke="#888" stroke-width="0.8"/>
<rect x="820.6" y="107" width="20" height="3" fill="#000"/>
<rect x="829" y="92" width="13" height="6.5" fill="#ddd" stroke="#000" stroke-width="0.8"/>
<!-- bridge tower -->
<path d="M803,148 L818,240 M808,148 L822,240 M812,150 L821,200 M800,150 L812,240" stroke="#a8a8a8" stroke-width="1" fill="none"/>
<!-- lowest block -->
<rect x="805" y="239.5" width="107.5" height="22" fill="#c0c0c0" stroke="#000" stroke-width="1"/>
<rect x="823" y="240" width="33" height="21" fill="#b8b8b8"/>
<rect x="804.7" y="238.2" width="107.3" height="2.3" fill="#000"/>
<rect x="864" y="240.5" width="48" height="4.5" fill="#fff" stroke="#000" stroke-width="0.8"/>
<path d="M867.5,240.5 V245 M871.5,240.5 V245 M875.5,240.5 V245 M879.5,240.5 V245 M883.5,240.5 V245 M887.5,240.5 V245 M891.5,240.5 V245 M895.5,240.5 V245 M899.5,240.5 V245 M903.5,240.5 V245 M907.5,240.5 V245" stroke="#000" stroke-width="1"/>
<path d="M860,249 H880" stroke="#000" stroke-width="1.8"/>
<use href="#aa" transform="translate(853,256) scale(-1,1)"/>
<!-- level 227-238 -->
<rect x="823.5" y="227" width="88.5" height="11.2" fill="#c0c0c0" stroke="#000" stroke-width="1"/>
<rect x="855" y="227.5" width="2.5" height="10.5" fill="#999"/>
<rect x="876" y="226.2" width="10.5" height="6.8" fill="#fff" stroke="#000" stroke-width="0.6"/>
<path d="M879.5,226.5 V233 M883,226.5 V233" stroke="#000" stroke-width="1"/>
<path d="M887,231.5 H912" stroke="#1a7ce8" stroke-width="2" stroke-dasharray="3,2"/>
<circle cx="863.2" cy="234.5" r="2" fill="#0A9CF5" stroke="#000" stroke-width="1"/>
<circle cx="872.2" cy="234.5" r="2" fill="#0A9CF5" stroke="#000" stroke-width="1"/>
<!-- level 218-227 -->
<rect x="816" y="220.2" width="96" height="6.5" fill="#cccccc" stroke="#000" stroke-width="1"/>
<rect x="876" y="221" width="29" height="5.2" fill="#fff" stroke="#000" stroke-width="0.6"/>
<path d="M879.5,221 V226 M883.5,221 V226 M887.5,221 V226 M891.5,221 V226 M895.5,221 V226 M899.5,221 V226 M903.5,221 V226" stroke="#000" stroke-width="1"/>
<rect x="815.2" y="218.7" width="90" height="1.8" fill="#000"/>
<!-- level 200-218 -->
<rect x="868.5" y="200" width="26.2" height="13.5" fill="#c0c0c0" stroke="#000" stroke-width="1"/>
<rect x="894.7" y="206.7" width="18" height="12" fill="#cfcfcf" stroke="#000" stroke-width="1"/>
<rect x="898" y="202.5" width="10" height="3" fill="#1a7ce8" stroke="#000" stroke-width="0.6"/>
<rect x="833" y="209.7" width="79" height="9" fill="#c0c0c0" stroke="#000" stroke-width="1"/>
<rect x="855" y="210" width="6" height="8.5" fill="#aaa" stroke="#000" stroke-width="0.6"/>
<circle cx="844.5" cy="215.7" r="2" fill="#0A9CF5" stroke="#000" stroke-width="1"/>
<circle cx="866" cy="216.5" r="2.6" fill="#bbb" stroke="#000" stroke-width="0.8"/>
<path d="M872.5,216.5 H912" stroke="#1a7ce8" stroke-width="2.2" stroke-dasharray="3,2"/>
<rect x="828" y="209.7" width="4.5" height="9" fill="#ddd" stroke="#888" stroke-width="0.6"/>
<rect x="816" y="199.2" width="52.5" height="10.5" fill="#d0d0d0" stroke="#000" stroke-width="1"/>
<rect x="858" y="199.7" width="10" height="9.6" fill="#e0e0e0"/>
<rect x="816" y="199" width="53" height="1.6" fill="#000"/>
<!-- level 188-200 -->
<rect x="873" y="189.5" width="21" height="10.5" fill="#c0c0c0" stroke="#000" stroke-width="1"/>
<path d="M876,199 H894" stroke="#1a7ce8" stroke-width="2.5" stroke-dasharray="3,2.2"/>
<rect x="833.2" y="188" width="39.8" height="11.2" fill="#c0c0c0" stroke="#000" stroke-width="1"/>
<rect x="828" y="188" width="4.5" height="11" fill="#ddd" stroke="#888" stroke-width="0.6"/>
<rect x="842" y="194" width="5.5" height="3" fill="#c02020" stroke="#000" stroke-width="0.7"/>
<rect x="857.5" y="194" width="5.5" height="3" fill="#c02020" stroke="#000" stroke-width="0.7"/>
<circle cx="840" cy="197.7" r="2" fill="#0A9CF5" stroke="#000" stroke-width="1"/>
<circle cx="852" cy="197.7" r="2" fill="#0A9CF5" stroke="#000" stroke-width="1"/>
<path d="M867,181.5 H898.5 V180 H909 V190.5 L894,196 H867 Z" fill="#cccccc" stroke="#000" stroke-width="1"/>
<path d="M867,186.5 H909" stroke="#999" stroke-width="0.8"/>
<rect x="816" y="186" width="52.5" height="2.2" fill="#000"/>
<!-- level 171-186 -->
<rect x="833.2" y="171" width="39.8" height="9" fill="#c0c0c0" stroke="#000" stroke-width="1"/>
<circle cx="843.7" cy="177.7" r="2" fill="#0A9CF5" stroke="#000" stroke-width="1"/>
<circle cx="850.8" cy="177.7" r="2" fill="#0A9CF5" stroke="#000" stroke-width="1"/>
<circle cx="864.7" cy="177.7" r="2" fill="#0A9CF5" stroke="#000" stroke-width="1"/>
<path d="M873,171 H888 L873,183 Z" fill="#c4c4c4" stroke="#000" stroke-width="0.8"/>
<circle cx="884.2" cy="177.7" r="3" fill="#ccc" stroke="#000" stroke-width="0.8"/>
<rect x="817.5" y="178.5" width="10.5" height="7.5" fill="#c8c8c8" stroke="#000" stroke-width="0.8"/>
<g shape-rendering="crispEdges"><path d="M828.0,179.7H867.0M828.0,182.7H867.0" stroke="#8f8f8f" stroke-width="1" fill="none"/><path d="M828.0,182.2H867.0" stroke="#8f8f8f" stroke-width="6.0" stroke-dasharray="1,5" stroke-dashoffset="4.0" fill="none"/></g>
<!-- level 161-171 -->
<rect x="816" y="169.5" width="73.5" height="1.8" fill="#000"/>
<rect x="856.5" y="161.2" width="33" height="8.5" fill="#cccccc" stroke="#000" stroke-width="1"/>
<circle cx="861.7" cy="159.7" r="1.8" fill="#e08010"/>
<circle cx="867" cy="159.7" r="1.8" fill="#e08010"/>
<circle cx="879" cy="156" r="3.5" fill="#ccc" stroke="#000" stroke-width="0.8"/>
<g shape-rendering="crispEdges"><path d="M816.0,163.5H856.5M816.0,166.5H856.5" stroke="#8f8f8f" stroke-width="1" fill="none"/><path d="M816.0,166.0H856.5" stroke="#8f8f8f" stroke-width="6.0" stroke-dasharray="1,5" stroke-dashoffset="4.0" fill="none"/></g>
<!-- starfish platform & block below -->
<rect x="835.5" y="150" width="20.2" height="12.7" fill="#c8c8c8" stroke="#000" stroke-width="0.8"/>
<circle cx="843" cy="156" r="4" fill="#bbb" stroke="#000" stroke-width="0.8"/>
<rect x="843" y="153" width="8" height="8" fill="#d8d8d8" stroke="#000" stroke-width="0.6"/>
<path d="M814.5,150 Q830,152 834.7,162.7 M874.5,150 Q860,152 855.7,162.7" stroke="#000" stroke-width="1.5" fill="none"/>
<path d="M816,150.5 Q829,153 833,160 H835.5 V150.5 Z M873,150.5 Q861,153 857,160 H855.7 V150.5 Z" fill="#d0d0d0"/>
<rect x="804" y="149" width="71.2" height="1.8" fill="#000"/>
<rect x="825.7" y="139.5" width="39.8" height="9.7" fill="#c8c8c8" stroke="#000" stroke-width="1"/>
<rect x="826.2" y="140" width="10" height="9" fill="#b0b0b0"/>
<rect x="855" y="140" width="10" height="9" fill="#d8d8d8"/>
<rect x="835.6" y="134.4" width="20.4" height="5" fill="#d4d4d4" stroke="#000" stroke-width="0.8"/>
<rect x="835.6" y="128.75" width="20.4" height="5.6" fill="#fff" stroke="#000" stroke-width="1"/>
<path d="M839,129 V134 M843,129 V134 M847,129 V134 M851,129 V134" stroke="#000" stroke-width="1"/>
<g shape-rendering="crispEdges"><path d="M836.0,123.5H848.0M836.0,126.5H848.0" stroke="#8f8f8f" stroke-width="1" fill="none"/><path d="M836.0,126.0H848.0" stroke="#8f8f8f" stroke-width="6.0" stroke-dasharray="1,5" stroke-dashoffset="0.0" fill="none"/></g>
<path d="M842,122.5 V118 M849,122.5 V118" stroke="#000" stroke-width="1"/>
<ellipse cx="846" cy="118" rx="6" ry="2.5" fill="#ddd" stroke="#000" stroke-width="0.8"/>
<rect x="870.7" y="139.5" width="6.8" height="6.7" fill="#fff" stroke="#666" stroke-width="0.8"/>
<path d="M874,146 V149" stroke="#000" stroke-width="1"/>
<path d="M798.7,136.5 H810 M798.7,144 H810 M804.3,136.5 V150" stroke="#000" stroke-width="1"/>
<circle cx="804.3" cy="148" r="1.5" fill="#fff" stroke="#000" stroke-width="0.8"/>

<g shape-rendering="crispEdges"><path d="M435.0,256.0H935.0M435.0,259.0H935.0" stroke="#8f8f8f" stroke-width="1" fill="none"/><path d="M435.0,258.5H935.0" stroke="#8f8f8f" stroke-width="6.0" stroke-dasharray="1,5" stroke-dashoffset="1.0" fill="none"/></g>
<!-- turret B -->
<rect x="934.4" y="261.5" width="40" height="16.5" fill="#c0c0c0" stroke="#000" stroke-width="1"/>
<g shape-rendering="crispEdges"><path d="M912.0,256.0H944.0M912.0,259.0H944.0" stroke="#8f8f8f" stroke-width="1" fill="none"/><path d="M912.0,258.5H944.0" stroke="#8f8f8f" stroke-width="6.0" stroke-dasharray="1,5" stroke-dashoffset="4.0" fill="none"/></g>
<path d="M943,250 H998.5 V272.5 H943 Z" fill="#c8c8c8" stroke="#000" stroke-width="1"/>
<rect x="943.5" y="250.5" width="16" height="11" fill="#a9a9a9"/>
<rect x="975" y="250.5" width="12" height="22" fill="#d2d2d2"/>
<g shape-rendering="crispEdges"><path d="M934.0,272.5H974.0M934.0,275.5H974.0" stroke="#8f8f8f" stroke-width="1" fill="none"/><path d="M934.0,275.0H974.0" stroke="#8f8f8f" stroke-width="6.0" stroke-dasharray="1,5" stroke-dashoffset="2.0" fill="none"/></g>
<use href="#turret" style="color:#a9a9a9" transform="translate(927.25,250.1)"/>
<!-- turret A -->
<use href="#turret" style="color:#a9a9a9" transform="translate(1010.25,268.25) scale(0.98,1)"/>
<g shape-rendering="crispEdges"><path d="M975.0,271.5H1010.0M975.0,274.5H1010.0" stroke="#8f8f8f" stroke-width="1" fill="none"/><path d="M975.0,274.0H1010.0" stroke="#8f8f8f" stroke-width="6.0" stroke-dasharray="1,5" stroke-dashoffset="1.0" fill="none"/></g>
<!-- forecastle fittings -->
<rect x="1089" y="267.5" width="12" height="4" fill="#000"/><rect x="1091" y="268.3" width="1.5" height="2.5" fill="#e04010"/><rect x="1097" y="268.3" width="1.5" height="2.5" fill="#e04010"/>
<rect x="1127" y="264.5" width="23" height="6" fill="#a8a8a8"/>
<path d="M998.0,269.5 L1075.0,267.5 L1125.0,265.75 L1150.0,263.9 L1177.0,262.5 L1210.0,261.4 L1250.0,259.1 L1300.0,256.5 L1374.0,249.0 M998.0,272.5 L1075.0,270.5 L1125.0,268.75 L1150.0,266.9 L1177.0,265.5 L1210.0,264.4 L1250.0,262.1 L1300.0,259.5 L1374.0,252.0 M1004.5,268.84415584415586V274.84415584415586M1010.5,268.68831168831167V274.68831168831167M1016.5,268.53246753246754V274.53246753246754M1022.5,268.3766233766234V274.3766233766234M1028.5,268.2207792207792V274.2207792207792M1034.5,268.06493506493507V274.06493506493507M1040.5,267.90909090909093V273.90909090909093M1046.5,267.75324675324674V273.75324675324674M1052.5,267.5974025974026V273.5974025974026M1058.5,267.4415584415584V273.4415584415584M1064.5,267.2857142857143V273.2857142857143M1070.5,267.12987012987014V273.12987012987014M1076.5,266.965V272.965M1082.5,266.755V272.755M1088.5,266.545V272.545M1094.5,266.335V272.335M1100.5,266.125V272.125M1106.5,265.915V271.915M1112.5,265.705V271.705M1118.5,265.495V271.495M1124.5,265.285V271.285M1130.5,264.88V270.88M1136.5,264.436V270.436M1142.5,263.99199999999996V269.99199999999996M1148.5,263.548V269.548M1154.5,263.1925925925926V269.1925925925926M1160.5,262.88148148148144V268.88148148148144M1166.5,262.57037037037037V268.57037037037037M1172.5,262.25925925925924V268.25925925925924M1178.5,261.96666666666664V267.96666666666664M1184.5,261.76666666666665V267.76666666666665M1190.5,261.56666666666666V267.56666666666666M1196.5,261.3666666666667V267.3666666666667M1202.5,261.16666666666663V267.16666666666663M1208.5,260.96666666666664V266.96666666666664M1214.5,260.66999999999996V266.66999999999996M1220.5,260.325V266.325M1226.5,259.98V265.98M1232.5,259.635V265.635M1238.5,259.29V265.29M1244.5,258.945V264.945M1250.5,258.6V264.6M1256.5,258.288V264.288M1262.5,257.976V263.976M1268.5,257.664V263.664M1274.5,257.35200000000003V263.35200000000003M1280.5,257.04V263.04M1286.5,256.728V262.728M1292.5,256.416V262.416M1298.5,256.104V262.104M1304.5,255.59459459459458V261.5945945945946M1310.5,254.9864864864865V260.9864864864865M1316.5,254.3783783783784V260.3783783783784M1322.5,253.77027027027026V259.77027027027026M1328.5,253.1621621621622V259.1621621621622M1334.5,252.55405405405406V258.55405405405406M1340.5,251.94594594594594V257.94594594594594M1346.5,251.3378378378378V257.3378378378378M1352.5,250.72972972972974V256.72972972972974M1358.5,250.1216216216216V256.1216216216216M1364.5,249.51351351351352V255.51351351351352M1370.5,248.90540540540542V254.90540540540542" stroke="#8f8f8f" stroke-width="1" fill="none"/>
<rect x="1177.5" y="260.6" width="32" height="7.5" fill="#d8d8d8" stroke="#000" stroke-width="1"/>
<rect x="1178" y="261" width="3" height="7" fill="#a8a8a8"/>
<path d="M1185.6,257.5 H1212" stroke="#000" stroke-width="1.2"/>
<path d="M1187,260.5 L1188,254 L1192,253 L1193,259 M1192,253 L1194,251 V250 M1195,260.5 L1196,255 L1199,253 L1201,255 L1200,260.5 M1197,256 H1201 M1188,257 H1195" stroke="#111" stroke-width="0.9" fill="none"/><path d="M1199,253.5 L1200,260" stroke="#8a4a20" stroke-width="1"/>
<path d="M1215.6,265.6 V260 Q1216,258.5 1218,258.5 H1225 Q1227,258.5 1227,260 V265.6" fill="#fff" stroke="#000" stroke-width="0.8"/><path d="M1218.5,260.5 V264.5 M1220.5,260.5 V264.5 M1222.5,260.5 V264.5 M1224.5,260.5 V264.5" stroke="#333" stroke-width="0.7"/>
<path d="M1263.75,263 V257 Q1264,255.5 1266,255.5 H1273 Q1275,255.5 1275,257 V262" fill="#fff" stroke="#000" stroke-width="0.8"/><path d="M1266.5,257.5 V262 M1268.5,257.5 V262 M1270.5,257.5 V262 M1272.5,257.5 V262" stroke="#333" stroke-width="0.7"/>
<rect x="1251" y="258.75" width="12.5" height="5" fill="#000"/><rect x="1253" y="259.5" width="1.5" height="3.5" fill="#e04010"/><rect x="1259" y="259.5" width="1.5" height="3.5" fill="#e04010"/>
<path d="M1283,261.5 Q1284,257 1287,260 Q1290,257 1292,261" stroke="#000" stroke-width="1" fill="none"/>
<circle cx="1361" cy="255" r="3.2" fill="#ccc" stroke="#000" stroke-width="0.8"/>
<!-- anchors -->
<g id="anc" fill="#3c3c3c" stroke="#000" stroke-width="1">
<path d="M1307.7,271.6 L1315.6,281.2 L1323.4,273.4 L1313.8,265.5 L1316.5,270 L1311.5,275 Z"/>
<circle cx="1316.5" cy="274" r="2" fill="#555" stroke="#222" stroke-width="0.8"/>
</g>
<use href="#anc" transform="translate(22.3,-2)"/>
</svg>
</body></html>
